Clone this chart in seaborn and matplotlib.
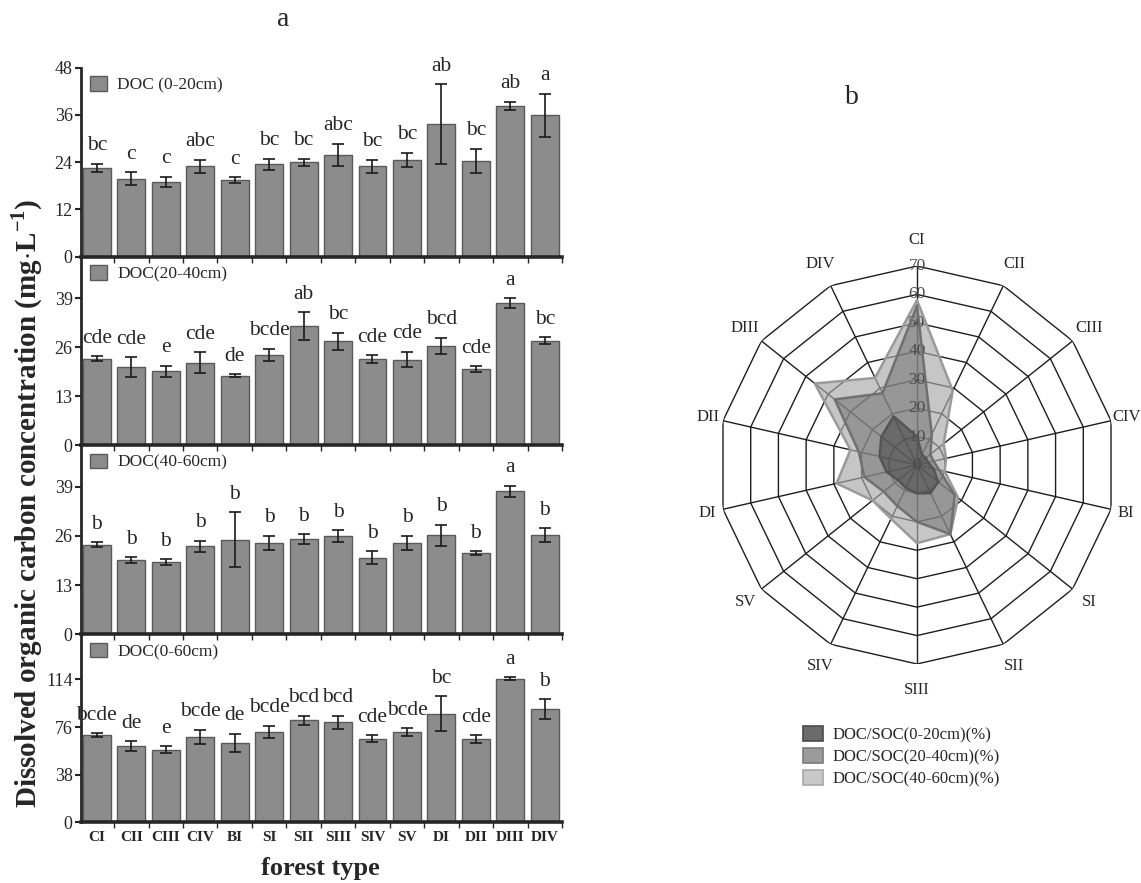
import numpy as np
import pandas as pd
import matplotlib
matplotlib.use("Agg")
import matplotlib.pyplot as plt
import seaborn as sns
from matplotlib.patches import Patch

# ---------------- data ----------------
forest = ["CI", "CII", "CIII", "CIV", "BI", "SI", "SII", "SIII", "SIV", "SV",
          "DI", "DII", "DIII", "DIV"]

doc_0_20 = [22.5, 19.8, 19.0, 22.9, 19.5, 23.4, 24.0, 25.8, 22.9, 24.6, 33.6, 24.3, 38.3, 35.9]
err_0_20 = [1.1, 1.6, 1.3, 1.7, 0.7, 1.5, 0.9, 2.9, 1.7, 1.8, 10.1, 3.1, 1.0, 5.5]
let_0_20 = ["bc", "c", "c", "abc", "c", "bc", "bc", "abc", "bc", "bc", "ab", "bc", "ab", "a"]

doc_20_40 = [22.9, 20.7, 19.6, 21.9, 18.4, 23.9, 31.6, 27.5, 22.9, 22.7, 26.3, 20.1, 37.7, 27.7]
err_20_40 = [0.7, 2.6, 1.5, 2.8, 0.45, 1.7, 3.7, 2.3, 1.0, 2.1, 2.2, 0.75, 1.3, 0.9]
let_20_40 = ["cde", "cde", "e", "cde", "de", "bcde", "ab", "bc", "cde", "cde", "bcd", "cde", "a", "bc"]

doc_40_60 = [23.7, 19.6, 19.1, 23.2, 25.0, 24.2, 25.2, 25.9, 20.2, 24.2, 26.2, 21.4, 37.8, 26.3]
err_40_60 = [0.7, 0.8, 0.8, 1.5, 7.3, 1.85, 1.3, 1.6, 1.7, 1.85, 2.8, 0.5, 1.5, 1.8]
let_40_60 = ["b", "b", "b", "b", "b", "b", "b", "b", "b", "b", "b", "b", "a", "b"]

doc_0_60 = [69.5, 60.7, 58.0, 68.2, 63.4, 72.2, 81.6, 79.7, 66.6, 71.9, 86.6, 66.3, 114.7, 90.4]
err_0_60 = [1.7, 4.1, 2.9, 5.6, 7.4, 4.8, 3.6, 5.3, 2.9, 3.2, 13.9, 3.2, 1.3, 7.8]
let_0_60 = ["bcde", "de", "e", "bcde", "de", "bcde", "bcd", "bcd", "cde", "bcde", "bc", "cde", "a", "b"]

panel_labels = ["DOC (0-20cm)", "DOC(20-40cm)", "DOC(40-60cm)", "DOC(0-60cm)"]
panel_ymax = [48, 50, 50, 150]
panel_ticks = [[0, 12, 24, 36, 48], [0, 13, 26, 39], [0, 13, 26, 39], [0, 38, 76, 114]]

# DOC/SOC ratio (%) for radar chart
ratio_0_20 = [10, 4, 4, 4, 6, 9.5, 11, 10, 9, 8.5, 11, 13.5, 16, 19]
ratio_20_40 = [56, 12, 6, 6, 8, 17, 27, 20, 16, 15, 19, 21, 37, 28]
ratio_40_60 = [58, 29, 12, 10.5, 10, 18.5, 27, 27.5, 21, 20, 29, 24, 46, 34]
ratio_labels = ["DOC/SOC(0-20cm)(%)", "DOC/SOC(20-40cm)(%)", "DOC/SOC(40-60cm)(%)"]
radar_ticks = [0, 10, 20, 30, 40, 50, 60, 70]

# ---------------- style ----------------
sns.set_style("ticks")
plt.rcParams["font.family"] = ["Liberation Serif", "DejaVu Serif"]
plt.rcParams["mathtext.fontset"] = "custom"
plt.rcParams["mathtext.rm"] = "Liberation Serif"
plt.rcParams["mathtext.bf"] = "Liberation Serif:bold"

W, H = 1141, 883
fig = plt.figure(figsize=(W / 100, H / 100), dpi=100)
fig.patch.set_facecolor("white")


def fx(px):
    return px / W


def fy(py):
    return 1 - py / H


bar_color = "#8c8c8c"
bar_edge = "#5a5a5a"

tops = [67.5, 256.7, 445.0, 634.3]
bottoms = [256.7, 445.0, 634.3, 822.3]
series = [(doc_0_20, err_0_20, let_0_20), (doc_20_40, err_20_40, let_20_40),
          (doc_40_60, err_40_60, let_40_60), (doc_0_60, err_0_60, let_0_60)]

x_left, x_right = 81, 562
for k, ((vals, errs, lets), top, bot) in enumerate(zip(series, tops, bottoms)):
    ax = fig.add_axes([fx(x_left), fy(bot), fx(x_right) - fx(x_left), (bot - top) / H])
    df = pd.DataFrame({"forest": forest, "value": vals})
    sns.barplot(data=df, x="forest", y="value", color=bar_color, saturation=1,
                edgecolor=bar_edge, linewidth=1.0, width=0.81, ax=ax, zorder=2)
    ax.errorbar(np.arange(len(forest)), vals, yerr=errs, fmt="none",
                ecolor="#1a1a1a", elinewidth=1.2, capsize=4.5, capthick=1.2, zorder=3)
    for i, (v, e, t) in enumerate(zip(vals, errs, lets)):
        ax.annotate(t, xy=(i, v + e), xytext=(0, 6), textcoords="offset points",
                    ha="center", va="bottom", fontsize=15.5)
    ax.set_xlim(-0.46, 13.42)
    ax.set_ylim(0, panel_ymax[k])
    ax.set_yticks(panel_ticks[k])
    ax.set_xlabel("")
    ax.set_ylabel("")
    ax.patch.set_alpha(0)
    for s in ["top", "right"]:
        ax.spines[s].set_visible(False)
    ax.spines["left"].set_linewidth(2.0)
    ax.spines["bottom"].set_linewidth(2.6)
    ax.tick_params(axis="y", labelsize=13, length=4, width=1.5, direction="out", pad=2)
    ax.set_xticks(np.arange(len(forest)) + 0.5, minor=True)
    ax.tick_params(axis="x", which="minor", length=4, width=1.0, direction="out")
    ax.tick_params(axis="x", which="major", length=0, pad=6)
    if k < 3:
        ax.set_xticklabels([])
    else:
        for lab in ax.get_xticklabels():
            lab.set_fontweight("bold")
            lab.set_fontsize(11)
    handle = Patch(facecolor=bar_color, edgecolor=bar_edge, linewidth=1.0)
    ax.legend([handle], [panel_labels[k]], loc="upper left", frameon=False,
              fontsize=12.5, handlelength=1.0, handleheight=0.9, handletextpad=0.6,
              borderaxespad=0.3, borderpad=0.2)

fig.text(fx(27), fy(503), r"Dissolved organic carbon concentration (mg$\cdot$L$^{\mathbf{-1}}$)",
         rotation=90, ha="center", va="center", fontsize=21, fontweight="bold")
fig.text(fx(320), fy(868), "forest type", ha="center", va="center",
         fontsize=19, fontweight="bold")
fig.text(fx(283), fy(20), "a", ha="center", va="center", fontsize=20)
fig.text(fx(852), fy(97), "b", ha="center", va="center", fontsize=20)

# ---------------- radar ----------------
cx, cy, R = 917, 465, 199
axr = fig.add_axes([fx(cx - R), fy(cy + R), 2 * R / W, 2 * R / H], projection="polar")
axr.set_theta_zero_location("N")
axr.set_theta_direction(-1)
angles = np.linspace(0, 2 * np.pi, len(forest), endpoint=False)
closed = np.r_[angles, angles[0]]
axr.set_ylim(0, radar_ticks[-1])
axr.grid(False)
axr.spines["polar"].set_visible(False)
axr.set_xticks([])
axr.set_yticks([])
axr.patch.set_alpha(0)

for r in radar_ticks[1:]:
    axr.plot(closed, [r] * len(closed), color="#1e1e1e", lw=1.0, zorder=1)
for a in angles:
    axr.plot([a, a], [0, radar_ticks[-1]], color="#1e1e1e", lw=1.0, zorder=1)
for r in radar_ticks:
    axr.text(0, r, str(r), ha="center", va="center", fontsize=12.5, color="#4a4a4a",
             zorder=2.5)

fill_specs = [
    (ratio_40_60, "#a8a8a8", 0.65, "#9a9a9a"),
    (ratio_20_40, "#6a6a6a", 0.5, "#707070"),
    (ratio_0_20, "#3c3c3c", 0.5, "#555555"),
]
for vals, fc, al, ec in fill_specs:
    v = np.r_[vals, vals[0]]
    axr.fill(closed, v, facecolor=fc, alpha=al, edgecolor="none", zorder=2)
    axr.plot(closed, v, color=ec, lw=1.8, zorder=3)

for a, name in zip(angles, forest):
    rl = 74.5 + 4.5 * abs(np.cos(a))
    axr.text(a, rl, name, ha="center", va="center", fontsize=12, clip_on=False)

leg_handles = [Patch(facecolor="#6b6b6b", edgecolor="#4a4a4a", linewidth=1.2),
               Patch(facecolor="#9b9b9b", edgecolor="#7a7a7a", linewidth=1.2),
               Patch(facecolor="#c8c8c8", edgecolor="#a8a8a8", linewidth=1.2)]
fig.legend(leg_handles, ratio_labels, loc="upper left", bbox_to_anchor=(fx(803), fy(726)),
           frameon=False, fontsize=12, handlelength=1.2, handleheight=1.0,
           labelspacing=0.3, handletextpad=0.6, borderpad=0.0, borderaxespad=0.0)

fig.savefig("out.png", dpi=100, facecolor="white")
